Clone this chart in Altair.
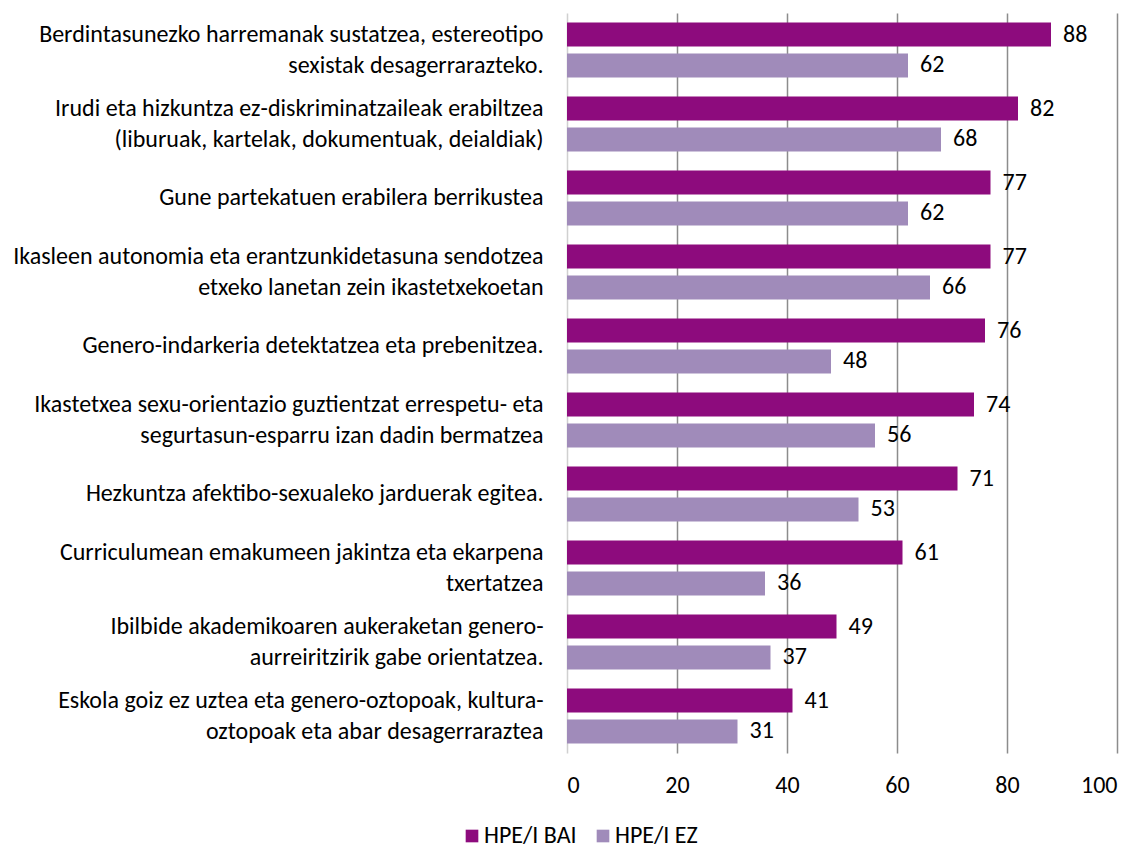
import altair as alt
import pandas as pd

categories = [
    "Berdintasunezko harremanak sustatzea, estereotipo|sexistak desagerrarazteko.",
    "Irudi eta hizkuntza ez-diskriminatzaileak erabiltzea|(liburuak, kartelak, dokumentuak, deialdiak)",
    "Gune partekatuen erabilera berrikustea",
    "Ikasleen autonomia eta erantzunkidetasuna sendotzea|etxeko lanetan zein ikastetxekoetan",
    "Genero-indarkeria detektatzea eta prebenitzea.",
    "Ikastetxea sexu-orientazio guztientzat errespetu- eta|segurtasun-esparru izan dadin bermatzea",
    "Hezkuntza afektibo-sexualeko jarduerak egitea.",
    "Curriculumean emakumeen jakintza eta ekarpena|txertatzea",
    "Ibilbide akademikoaren aukeraketan genero-|aurreiritzirik gabe orientatzea.",
    "Eskola goiz ez uztea eta genero-oztopoak, kultura-|oztopoak eta abar desagerraraztea",
]
bai_values = [88, 82, 77, 77, 76, 74, 71, 61, 49, 41]
ez_values = [62, 68, 62, 66, 48, 56, 53, 36, 37, 31]
series = ["HPE/I BAI", "HPE/I EZ"]
colors = ["#8D0B7D", "#A08BBA"]
tick_values = [0, 20, 40, 60, 80, 100]

rows = []
for c, b, e in zip(categories, bai_values, ez_values):
    rows.append({"cat": c, "series": series[0], "value": b})
    rows.append({"cat": c, "series": series[1], "value": e})
df = pd.DataFrame(rows)

FONT = "Carlito, Calibri, 'Open Sans', sans-serif"
FS = 24

y = alt.Y(
    "cat:N",
    sort=categories,
    scale=alt.Scale(paddingInner=0.26, paddingOuter=0.13),
    axis=alt.Axis(
        title=None,
        labelExpr="split(datum.label, '|')",
        labelFont=FONT,
        labelFontSize=FS,
        labelColor="#000000",
        labelLineHeight=31,
        labelPadding=24,
        labelLimit=700,
        labelOffset={"condition": {"test": "indexof(datum.value, '|') >= 0", "value": -15}, "value": 0},
        domain=False,
        ticks=False,
        grid=False,
    ),
)
yoff = alt.YOffset("series:N", sort=series, scale=alt.Scale(paddingInner=0.22, paddingOuter=0))
x = alt.X(
    "value:Q",
    scale=alt.Scale(domain=[0, 100], nice=False),
    axis=alt.Axis(
        title=None,
        values=tick_values,
        grid=True,
        gridColor={"condition": {"test": "datum.value === 0", "value": "#D0D0D0"}, "value": "#8C8C8C"},
        gridWidth=1.5,
        domain=False,
        ticks=False,
        labelFont=FONT,
        labelFontSize=FS,
        labelPadding=20,
        labelColor="#000000",
    ),
)
color = alt.Color(
    "series:N",
    sort=series,
    scale=alt.Scale(domain=series, range=colors),
    legend=alt.Legend(
        title=None,
        orient="none",
        legendX=-107,
        legendY=811,
        direction="horizontal",
        symbolType="square",
        symbolSize=160,
        symbolStrokeWidth=0,
        symbolOpacity=1,
        labelFont=FONT,
        labelFontSize=FS,
        labelColor="#000000",
        labelOffset=0,
        columnPadding=14,
    ),
)

bars = alt.Chart(df).mark_bar().encode(y=y, yOffset=yoff, x=x, color=color)
text = alt.Chart(df).mark_text(
    align="left", baseline="middle", dx=12, font=FONT, fontSize=FS, color="#000000"
).encode(y=y, yOffset=yoff, x="value:Q", text="value:Q")

chart = (
    alt.layer(bars, text)
    .properties(
        width=550,
        height=740,
        padding={"left": 559, "top": 5, "right": 13, "bottom": 95},
        autosize=alt.AutoSizeParams(type="none"),
    )
    .configure_view(stroke=None)
)

chart.save("out.html", embed_options={"renderer": "svg", "actions": False})
